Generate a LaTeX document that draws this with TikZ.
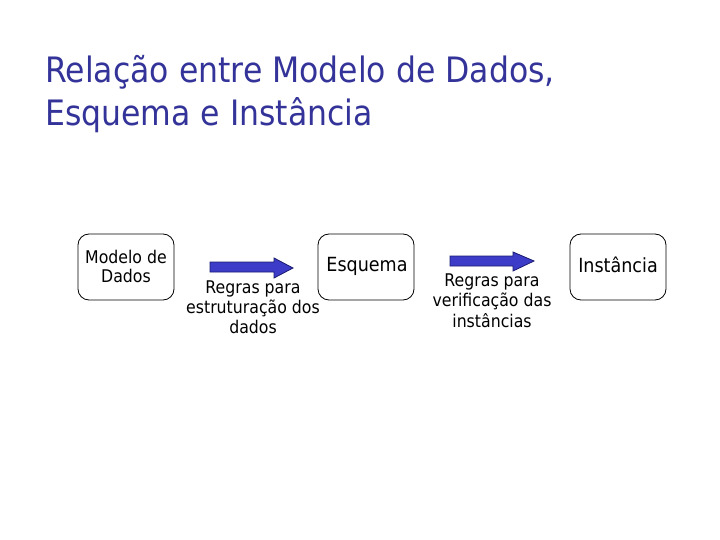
\documentclass[tikz,border=0pt]{standalone}
\usepackage{fontspec}
\setmainfont{DejaVu Sans}[FakeStretch=0.9]
\begin{document}
\begin{tikzpicture}[x=1pt,y=-1pt,
  titletext/.style={anchor=base west,inner sep=0pt,text=titleblue,font=\fontsize{35}{42}\selectfont},
  box/.style={draw=black,line width=0.8pt,rounded corners=11pt,inner sep=0pt},
  lbl/.style={align=center,inner sep=0pt,font=\fontsize{17.5}{20}\selectfont},
  biglbl/.style={lbl,font=\fontsize{19.5}{22}\selectfont},
  blockarrow/.style={draw=arrowdark,line width=0.8pt,fill=arrowblue}]
\definecolor{titleblue}{HTML}{333399}
\definecolor{arrowblue}{HTML}{3C3CC8}
\definecolor{arrowdark}{HTML}{1A1A70}
\useasboundingbox (0,0) rectangle (720,540);
% title
\node[titletext] (t1) at (45,83) {Relação entre Modelo de Dados,};
\node[titletext] (t2) at (45,126) {Esquema e Instância};
% boxes
\draw[box] (78,234) rectangle (174,300);
\draw[box] (318,234) rectangle (414,300);
\draw[box] (570,234) rectangle (666,300);
\node[lbl,anchor=base] (m1) at (126,263) {Modelo de};
\node[lbl,anchor=base] (m2) at (126,282) {Dados};
\node[biglbl,anchor=base] (esq) at (367,271) {Esquema};
\node[biglbl,anchor=base] (ins) at (618,272) {Instância};
% block arrows
\draw[blockarrow] (210,262) -- (274,262) -- (274,258) -- (293,268) -- (274,278) -- (274,272) -- (210,272) -- cycle;
\draw[blockarrow] (450,256) -- (513,256) -- (513,252) -- (534,261) -- (513,271) -- (513,266) -- (450,266) -- cycle;
% labels
\node[lbl,anchor=base] (r1a) at (253,293) {Regras para};
\node[lbl,anchor=base] (r1b) at (253,313) {estruturação dos};
\node[lbl,anchor=base] (r1c) at (253,333) {dados};
\node[lbl,anchor=base] (r2a) at (492,286) {Regras para};
\node[lbl,anchor=base] (r2b) at (492,306) {verificação das};
\node[lbl,anchor=base] (r2c) at (492,327) {instâncias};
\end{tikzpicture}
\end{document}
